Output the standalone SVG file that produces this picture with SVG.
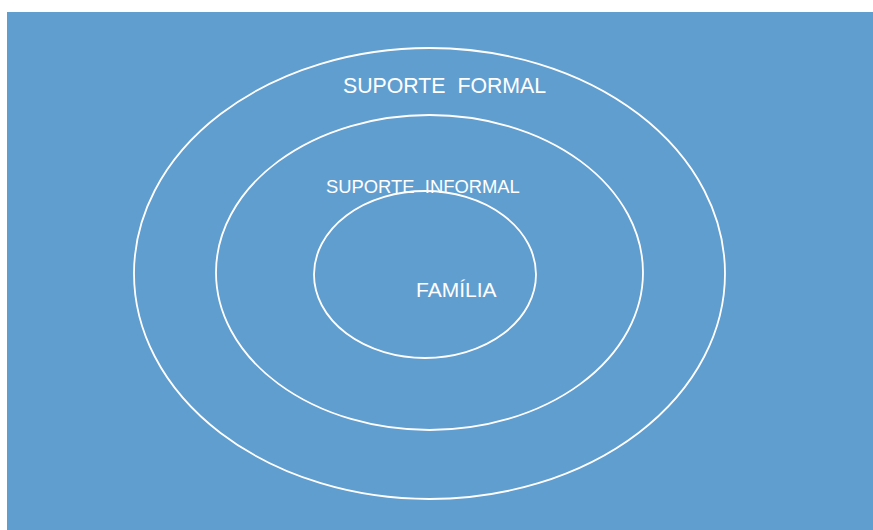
<svg xmlns="http://www.w3.org/2000/svg" width="873" height="530" viewBox="0 0 873 530">
<style>
.ring{fill:none;stroke:#ffffff;stroke-width:1.8}
.lbl{fill:#ffffff;font-family:"Liberation Sans",Arial,sans-serif;white-space:pre}
</style>
<rect x="0" y="0" width="873" height="530" fill="#ffffff"/>
<rect x="7" y="12" width="866" height="518" fill="#619ED0"/>
<g id="outer">
<ellipse class="ring" cx="429.5" cy="273.5" rx="295.5" ry="225.5"/>
<text class="lbl" x="343" y="93" font-size="21.3" xml:space="preserve">SUPORTE  FORMAL</text>
</g>
<g id="middle">
<ellipse class="ring" cx="429.5" cy="272.5" rx="213.5" ry="157.5"/>
<text class="lbl" x="326" y="193" font-size="18.4" xml:space="preserve">SUPORTE  INFORMAL</text>
</g>
<g id="inner">
<ellipse class="ring" cx="425" cy="274.5" rx="111" ry="83.5"/>
<text class="lbl" x="416" y="297" font-size="21">FAMÍLIA</text>
</g>
<g id="connectors"/>
</svg>
